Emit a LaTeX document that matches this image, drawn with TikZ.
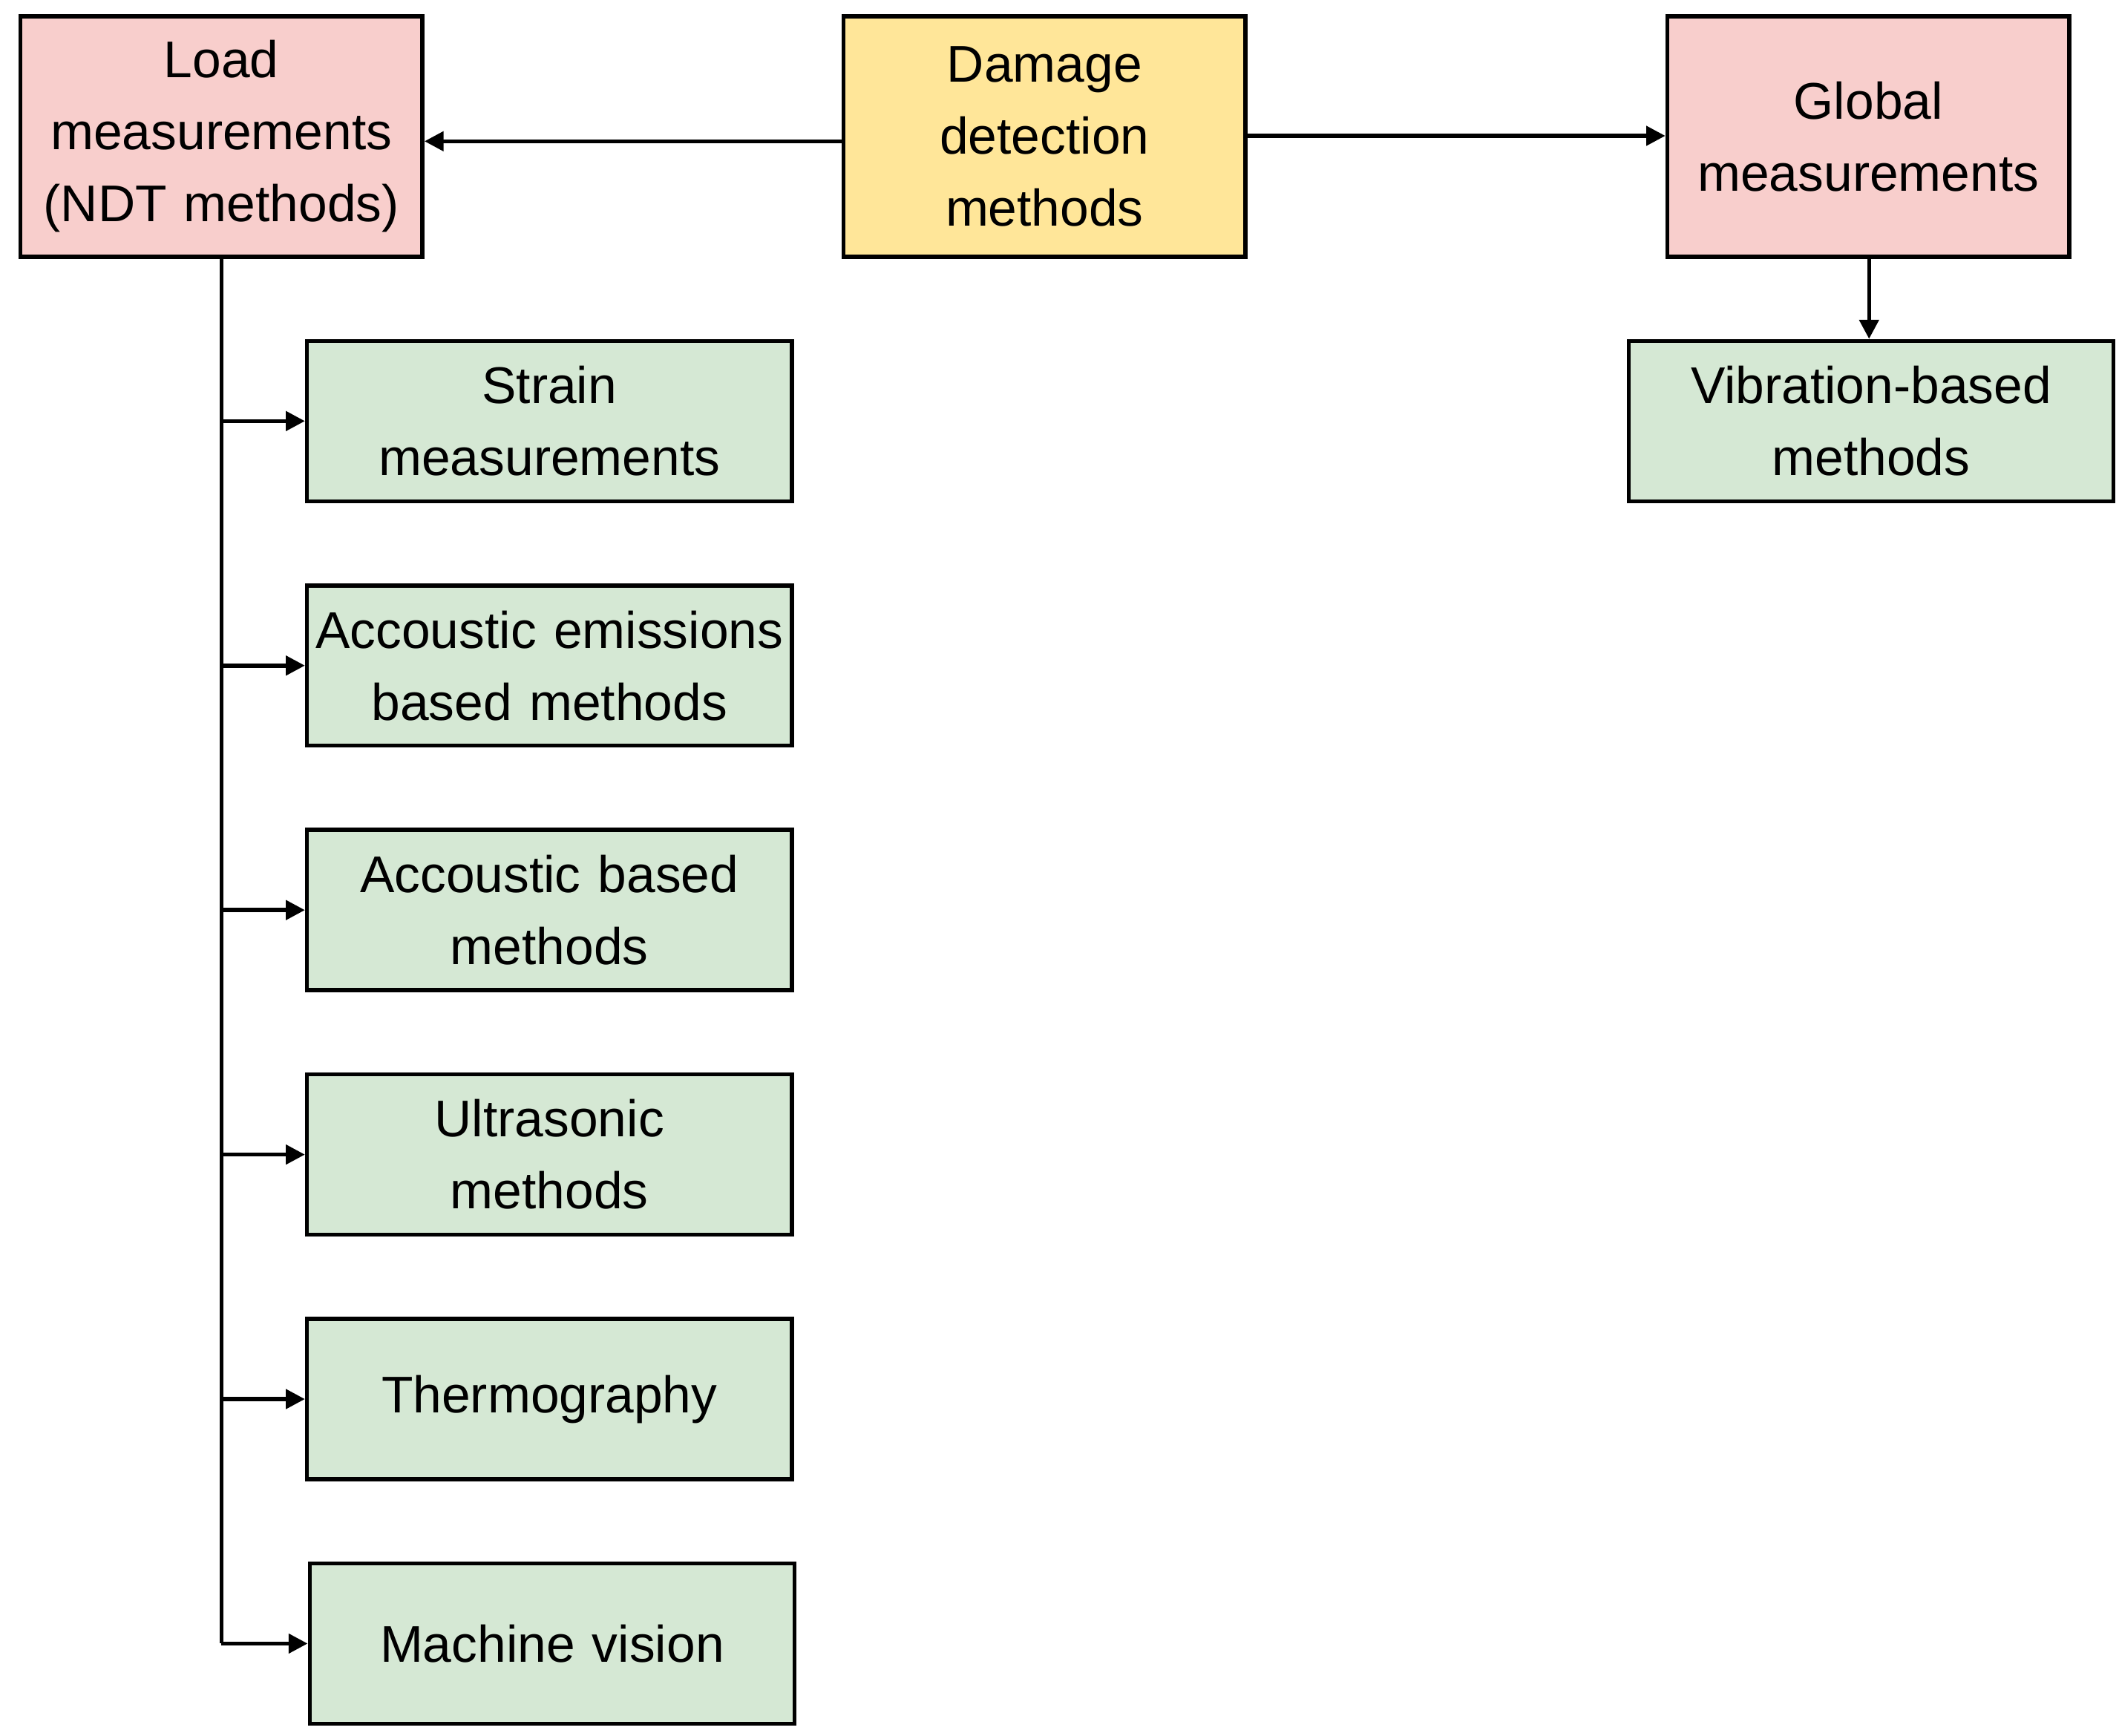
\documentclass[tikz,border=0pt]{standalone}
\usepackage{fontspec}
\setmainfont{Liberation Sans}
\usetikzlibrary{arrows.meta}
\definecolor{pinkc}{HTML}{F8CECC}
\definecolor{yelc}{HTML}{FFE699}
\definecolor{grnc}{HTML}{D5E8D4}
\begin{document}
\begin{tikzpicture}[x=0.5pt,y=-0.5pt,
  box/.style={draw=black,line width=1.5pt,align=center,font=\fontsize{19}{26.5}\selectfont,inner sep=0pt},
  top/.style={box,minimum width=148pt,minimum height=88.5pt,text width=148pt},
  sub/.style={box,fill=grnc,minimum width=178.5pt,minimum height=59pt,text width=178pt},
  arr/.style={line width=1.5pt,-{Triangle[length=7pt,width=7pt]}}]
\useasboundingbox (0,0) rectangle (1560,1278);
\node[top,fill=pinkc] (load) at (163,100.5) {Load\\measurements\\(NDT methods)};
\node[top,fill=yelc,minimum width=147pt] (dmg) at (769,100.5) {Damage\\detection\\methods};
\node[top,fill=pinkc] (glob) at (1375.5,100.5) {Global\\measurements};
\node[sub] (vib) at (1377.5,310) {Vibration-based\\methods};
\node[sub] (s1) at (404.5,310) {Strain\\measurements};
\node[sub] (s2) at (404.5,490) {Accoustic emissions\\based methods};
\node[sub] (s3) at (404.5,670) {Accoustic based\\methods};
\node[sub] (s4) at (404.5,850) {Ultrasonic\\methods};
\node[sub] (s5) at (404.5,1030) {Thermography};
\node[sub] (s6) at (406.5,1210) {Machine vision};
\draw[arr] (dmg.west |- 0,104) -- (load.east |- 0,104);
\draw[arr] (dmg.east |- 0,100) -- (glob.west |- 0,100);
\draw[arr] (glob.south -| 1376,0) -- (vib.north -| 1376,0);
\draw[line width=1.5pt] (load.south) -- (163,1210);
\foreach \n in {s1,s2,s3,s4,s5,s6}{\draw[arr] (\n.west -| 163,0) -- (\n.west);}
\end{tikzpicture}
\end{document}
